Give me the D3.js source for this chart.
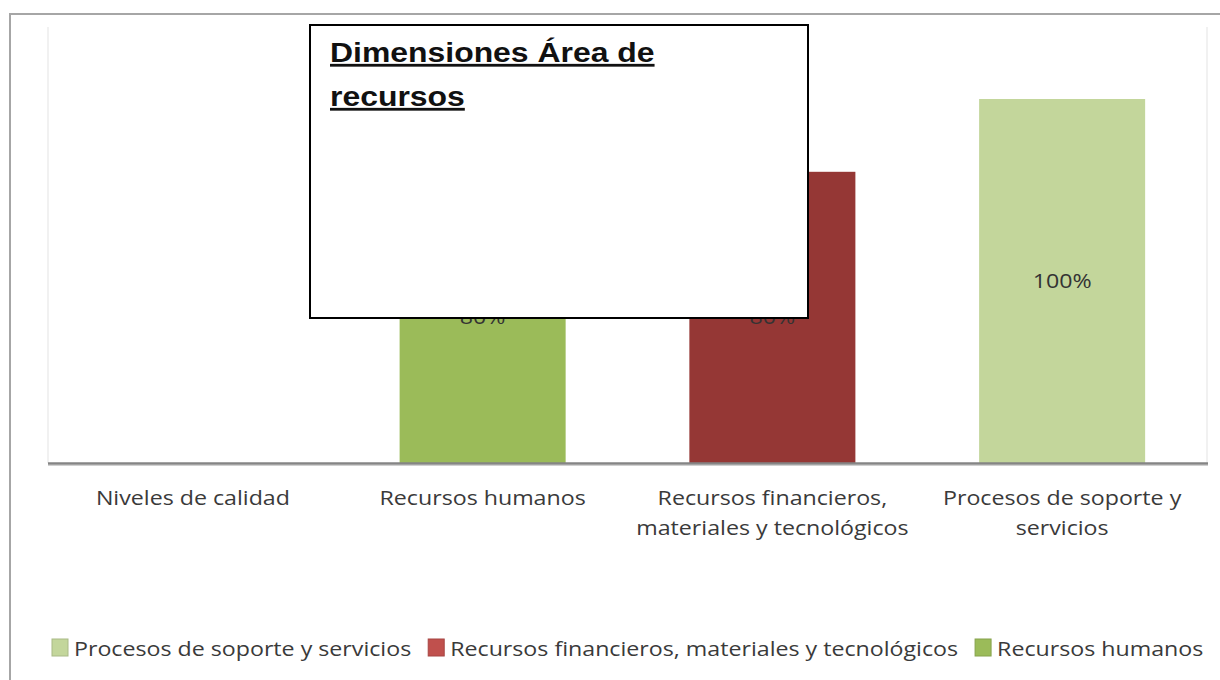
<!DOCTYPE html>
<html>
<head>
<meta charset="utf-8">
<script src="https://cdn.jsdelivr.net/npm/d3@7"></script>
<style>
  html, body { margin: 0; padding: 0; background: #fff; }
  svg { display: block; }
</style>
</head>
<body>
<svg id="chart" width="1220" height="680"></svg>
<script>
const categories = ["Niveles de calidad", "Recursos humanos", "Recursos financieros, materiales y tecnológicos", "Procesos de soporte y servicios"];
const tickLabels = [["Niveles de calidad"], ["Recursos humanos"], ["Recursos financieros,", "materiales y tecnológicos"], ["Procesos de soporte y", "servicios"]];
const seriesNames = ["Procesos de soporte y servicios", "Recursos financieros, materiales y tecnológicos", "Recursos humanos"];
const procesosValues = [0, 0, 0, 1.00];
const financierosValues = [0, 0, 0.80, 0];
const humanosValues = [0, 0.80, 0, 0];
const seriesColors = ["#C3D69B", "#953735", "#9BBB59"];
const legendColors = ["#C3D69B", "#C0504D", "#9BBB59"];
const titleLines = ["Dimensiones Área de", "recursos"];

const svg = d3.select("#chart");
const SX = 1.16;
const FS = 20;
const textFont = "'Open Sans', sans-serif";

// outer chart border (top/left visible)
svg.append("path").attr("d", "M10,1000 L10,14 L1230,14")
  .attr("fill", "none").attr("stroke", "#a6a6a6").attr("stroke-width", 2);

const plot = {left: 48, right: 1207, top: 27, bottom: 463};

// faint plot-area edges
svg.append("path").attr("d", `M${plot.left},${plot.bottom} L${plot.left},${plot.top}`)
  .attr("stroke", "#ececec").attr("stroke-width", 1.5).attr("fill", "none");
svg.append("path").attr("d", `M${plot.right},${plot.bottom} L${plot.right},${plot.top}`)
  .attr("stroke", "#ececec").attr("stroke-width", 1.5).attr("fill", "none");

const x = d3.scaleBand().domain(categories).range([plot.left, plot.right])
  .paddingInner(0.427).paddingOuter(0.2135);
const y = d3.scaleLinear().domain([0, 1]).range([plot.bottom, 99]);

const table = categories.map((c, i) => ({
  cat: c,
  [seriesNames[0]]: procesosValues[i],
  [seriesNames[1]]: financierosValues[i],
  [seriesNames[2]]: humanosValues[i]
}));
const stacked = d3.stack().keys(seriesNames)(table);

const groups = svg.append("g").selectAll("g").data(stacked).join("g")
  .attr("fill", (d, i) => seriesColors[i]);
groups.selectAll("rect").data(d => d.filter(p => p[1] - p[0] > 0)).join("rect")
  .attr("x", d => x(d.data.cat))
  .attr("width", x.bandwidth())
  .attr("y", d => y(d[1]))
  .attr("height", d => y(d[0]) - y(d[1]));

// value labels
const fmt = d3.format(".0%");
stacked.forEach(s => {
  s.filter(p => p[1] - p[0] > 0).forEach(p => {
    const cx = x(p.data.cat) + x.bandwidth() / 2;
    const cy = (y(p[0]) + y(p[1])) / 2 + 7;
    svg.append("text")
      .attr("transform", `translate(${cx},${cy}) scale(${SX},1)`)
      .attr("text-anchor", "middle")
      .attr("font-family", textFont).attr("font-size", FS)
      .attr("fill", "#333")
      .text(fmt(p[1] - p[0]));
  });
});

// baseline axis
const xAxis = d3.axisBottom(x).tickSize(0).tickFormat("");
const axisG = svg.append("g").attr("transform", `translate(0,${plot.bottom})`).call(xAxis);
axisG.select(".domain").attr("stroke", "#858585").attr("stroke-width", 2.5)
  .attr("d", `M${plot.left},0.5H${plot.right + 1}`);
svg.append("line").attr("x1", plot.left).attr("x2", plot.right + 1)
  .attr("y1", plot.bottom + 2.5).attr("y2", plot.bottom + 2.5)
  .attr("stroke", "#d0d0d0").attr("stroke-width", 1);

// category labels
categories.forEach((c, i) => {
  const cx = x(c) + x.bandwidth() / 2;
  tickLabels[i].forEach((line, j) => {
    svg.append("text")
      .attr("transform", `translate(${cx},${505 + j * 30}) scale(${SX},1)`)
      .attr("text-anchor", "middle")
      .attr("font-family", textFont).attr("font-size", FS)
      .attr("fill", "#3a3a3a")
      .text(line);
  });
});

// legend
const legend = svg.append("g");
let lx = 52;
seriesNames.forEach((name, i) => {
  const g = legend.append("g").attr("transform", `translate(${lx},0)`);
  g.append("rect").attr("x", 0).attr("y", 639).attr("width", 16).attr("height", 17)
    .attr("fill", legendColors[i]).attr("stroke", d3.color(legendColors[i]).darker(0.4)).attr("stroke-width", 1);
  const t = g.append("text")
    .attr("transform", `translate(22,656) scale(${SX},1)`)
    .attr("font-family", textFont).attr("font-size", FS)
    .attr("fill", "#3a3a3a")
    .text(name);
  const w = t.node().getComputedTextLength() * SX;
  lx += 22 + w + 17;
});

// title box on top
svg.append("rect").attr("x", 310).attr("y", 25).attr("width", 498).attr("height", 293)
  .attr("fill", "#fff").attr("stroke", "#000").attr("stroke-width", 2);
titleLines.forEach((line, j) => {
  svg.append("text")
    .attr("transform", `translate(330,${62 + j * 44}) scale(1.14,1)`)
    .attr("font-family", "'Liberation Sans', Arial, sans-serif")
    .attr("font-size", 28).attr("font-weight", "bold")
    .attr("text-decoration", "underline")
    .attr("fill", "#111")
    .text(line);
});
</script>
</body>
</html>
